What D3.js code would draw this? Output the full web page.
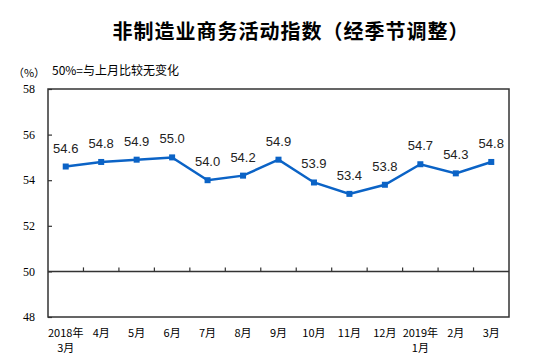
<!DOCTYPE html>
<html>
<head>
<meta charset="utf-8">
<script src="https://cdn.jsdelivr.net/npm/d3@7"></script>
<style>
  body { margin: 0; background: #fff; }
  svg { display: block; }
</style>
</head>
<body>
<div id="chart"></div>
<script>
// months and index values (seasonally adjusted)
var months = ["2018年|3月", "4月", "5月", "6月", "7月", "8月", "9月", "10月", "11月", "12月", "2019年|1月", "2月", "3月"];
var values = [54.6, 54.8, 54.9, 55.0, 54.0, 54.2, 54.9, 53.9, 53.4, 53.8, 54.7, 54.3, 54.8];
var yTicks = [48, 50, 52, 54, 56, 58];

var W = 554, H = 361;
var margin = { top: 89, right: 45, bottom: 44, left: 48 };
var lineColor = "#0b63c6";

var svg = d3.select("#chart").append("svg")
  .attr("width", W)
  .attr("height", H);

var x = d3.scaleBand()
  .domain(months)
  .range([margin.left, W - margin.right]);

var y = d3.scaleLinear()
  .domain([48, 58])
  .range([H - margin.bottom, margin.top]);

// title
svg.append("text")
  .attr("x", 291)
  .attr("y", 39)
  .attr("text-anchor", "middle")
  .style("font-family", "'Noto Sans CJK SC', sans-serif")
  .style("font-weight", "bold")
  .style("font-size", "20px")
  .style("letter-spacing", "1px")
  .text("非制造业商务活动指数（经季节调整）");

svg.append("text")
  .attr("x", 29)
  .attr("y", 77)
  .attr("text-anchor", "middle")
  .style("font-family", "'Noto Sans CJK SC', sans-serif")
  .style("font-size", "11px")
  .text("（%）");

svg.append("text")
  .attr("x", 52)
  .attr("y", 75)
  .style("font-family", "'Noto Sans CJK SC', sans-serif")
  .style("font-size", "12px")
  .text("50%=与上月比较无变化");

// frame
svg.append("rect")
  .attr("x", x.range()[0])
  .attr("y", y(58))
  .attr("width", x.range()[1] - x.range()[0])
  .attr("height", y(48) - y(58))
  .attr("fill", "none")
  .attr("stroke", "#333")
  .attr("stroke-width", 1.5);

// y axis (ticks pointing inward)
var yAxis = d3.axisRight(y).tickValues(yTicks).tickSize(4).tickFormat("");
svg.append("g")
  .attr("transform", "translate(" + margin.left + ",0)")
  .call(yAxis)
  .call(function(g) {
    g.select(".domain").remove();
    g.selectAll("line").attr("stroke", "#333").attr("stroke-width", 1.2);
  });

svg.selectAll(".ylabel")
  .data(yTicks)
  .enter().append("text")
    .attr("class", "ylabel")
    .attr("x", 35)
    .attr("y", function(d) { return y(d); })
    .attr("dy", "0.35em")
    .attr("text-anchor", "end")
    .style("font-family", "'Liberation Serif', serif")
    .style("font-size", "12px")
    .text(function(d) { return d; });

// 50 baseline with ticks at band edges
svg.append("line")
  .attr("x1", x.range()[0])
  .attr("x2", x.range()[1])
  .attr("y1", y(50))
  .attr("y2", y(50))
  .attr("stroke", "#333")
  .attr("stroke-width", 1.5);

svg.selectAll(".xtick")
  .data(months.slice(1))
  .enter().append("line")
    .attr("class", "xtick")
    .attr("x1", function(d) { return x(d); })
    .attr("x2", function(d) { return x(d); })
    .attr("y1", y(50))
    .attr("y2", y(50) - 4)
    .attr("stroke", "#333")
    .attr("stroke-width", 1.2);

// x labels (two-line where needed)
var xl = svg.selectAll(".xlabel")
  .data(months)
  .enter().append("text")
    .attr("class", "xlabel")
    .attr("text-anchor", "middle")
    .style("font-family", "'Noto Sans CJK SC', sans-serif")
    .style("font-size", "11px");

xl.each(function(d) {
  var parts = d.split("|");
  var cx = x(d) + x.bandwidth() / 2;
  var t = d3.select(this);
  parts.forEach(function(p, i) {
    t.append("tspan")
      .attr("x", cx)
      .attr("y", 337 + i * 15)
      .text(p);
  });
});

// line
var line = d3.line()
  .x(function(d, i) { return x(months[i]) + x.bandwidth() / 2; })
  .y(function(d) { return y(d); });

svg.append("path")
  .datum(values)
  .attr("d", line)
  .attr("fill", "none")
  .attr("stroke", lineColor)
  .attr("stroke-width", 2.5);

svg.selectAll(".pt")
  .data(values)
  .enter().append("rect")
    .attr("class", "pt")
    .attr("x", function(d, i) { return x(months[i]) + x.bandwidth() / 2 - 3; })
    .attr("y", function(d) { return y(d) - 3; })
    .attr("width", 6)
    .attr("height", 6)
    .attr("fill", lineColor);

svg.selectAll(".vlabel")
  .data(values)
  .enter().append("text")
    .attr("class", "vlabel")
    .attr("x", function(d, i) { return x(months[i]) + x.bandwidth() / 2; })
    .attr("y", function(d) { return y(d) - 14; })
    .attr("text-anchor", "middle")
    .style("font-family", "'Liberation Sans', Arial, sans-serif")
    .style("font-size", "13px")
    .style("fill", "#222")
    .text(function(d) { return d.toFixed(1); });
</script>
</body>
</html>
